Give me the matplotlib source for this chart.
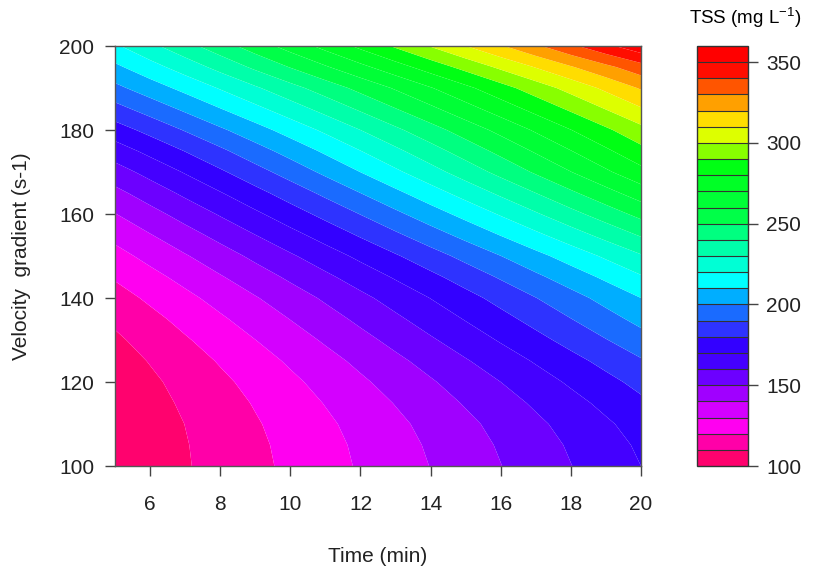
import numpy as np
import matplotlib
matplotlib.use("Agg")
import matplotlib.pyplot as plt

plt.rcParams['font.family'] = ['Liberation Sans', 'DejaVu Sans']
plt.rcParams['mathtext.fontset'] = 'custom'
plt.rcParams['mathtext.rm'] = 'Liberation Sans'
plt.rcParams['mathtext.it'] = 'Liberation Sans:italic'

# Time (min) columns and velocity gradient (s-1) rows
time_min = [5, 6, 7, 8, 9, 10, 11, 12, 13, 14, 15, 16, 17, 18, 19, 20]
velocity_gradient = [100, 105, 110, 115, 120, 125, 130, 135, 140, 145, 150,
                     155, 160, 165, 170, 175, 180, 185, 190, 195, 200]

# TSS (mg/L); one row per velocity gradient
tss_g100 = [101.0, 105.0, 109.2, 113.4, 117.6, 122.0, 126.4, 131.0, 135.6, 140.2, 145.0, 149.8, 154.8, 159.8, 164.8, 170.0]
tss_g105 = [101.1, 105.2, 109.5, 113.7, 118.1, 122.6, 127.1, 131.7, 136.4, 141.2, 146.0, 151.0, 156.0, 161.1, 166.3, 171.5]
tss_g110 = [101.5, 105.8, 110.1, 114.6, 119.1, 123.7, 128.3, 133.1, 137.9, 142.8, 147.8, 152.9, 158.1, 163.3, 168.6, 174.0]
tss_g115 = [102.3, 106.8, 111.4, 116.0, 120.7, 125.5, 130.4, 135.4, 140.4, 145.6, 150.8, 156.1, 161.4, 166.9, 172.4, 178.0]
tss_g120 = [103.5, 108.2, 113.1, 118.0, 122.9, 128.0, 133.1, 138.4, 143.7, 149.0, 154.5, 160.0, 165.7, 171.4, 177.1, 183.0]
tss_g125 = [105.5, 110.5, 115.6, 120.8, 126.0, 131.3, 136.7, 142.2, 147.8, 153.4, 159.2, 165.0, 170.9, 176.8, 182.9, 189.0]
tss_g130 = [108.3, 113.6, 119.0, 124.4, 129.9, 135.5, 141.2, 147.0, 152.8, 158.8, 164.8, 170.9, 177.0, 183.3, 189.6, 196.0]
tss_g135 = [111.8, 117.3, 122.9, 128.6, 134.4, 140.2, 146.1, 152.1, 158.2, 164.4, 170.6, 176.9, 183.3, 189.8, 196.4, 203.0]
tss_g140 = [116.0, 121.7, 127.5, 133.4, 139.3, 145.3, 151.4, 157.6, 163.9, 170.2, 176.7, 183.2, 189.8, 196.4, 203.2, 210.0]
tss_g145 = [121.0, 127.0, 133.0, 139.2, 145.4, 151.7, 158.0, 164.5, 171.0, 177.6, 184.3, 191.1, 198.0, 204.9, 211.9, 219.0]
tss_g150 = [126.6, 132.9, 139.2, 145.6, 152.2, 158.7, 165.4, 172.2, 179.0, 185.9, 192.9, 199.9, 207.1, 214.3, 221.6, 229.0]
tss_g155 = [132.8, 139.5, 146.2, 153.0, 159.9, 166.9, 173.9, 181.1, 188.3, 195.6, 202.9, 210.4, 217.9, 225.5, 233.2, 241.0]
tss_g160 = [139.7, 146.7, 153.8, 160.9, 168.2, 175.5, 182.9, 190.3, 197.9, 205.5, 213.2, 221.0, 228.9, 236.9, 244.9, 253.0]
tss_g165 = [147.3, 154.6, 162.0, 169.4, 176.9, 184.5, 192.2, 200.0, 207.8, 215.8, 223.8, 231.9, 240.0, 248.3, 256.6, 265.0]
tss_g170 = [155.7, 163.2, 170.8, 178.5, 186.3, 194.1, 202.1, 210.1, 218.2, 226.3, 234.6, 242.9, 251.3, 259.8, 268.4, 277.0]
tss_g175 = [165.1, 172.7, 180.3, 188.0, 195.9, 203.7, 211.7, 219.8, 227.9, 236.1, 244.4, 252.7, 261.2, 269.7, 278.3, 287.0]
tss_g180 = [175.5, 183.0, 190.7, 198.4, 206.1, 214.0, 221.9, 230.0, 238.1, 246.2, 254.5, 262.8, 271.3, 279.8, 288.3, 297.0]
tss_g185 = [186.5, 194.1, 201.8, 209.6, 217.4, 225.3, 233.3, 241.4, 249.6, 257.8, 266.2, 274.6, 283.1, 291.6, 300.3, 309.0]
tss_g190 = [197.5, 205.2, 212.9, 220.8, 228.7, 236.7, 244.7, 252.9, 261.1, 269.4, 277.8, 286.3, 294.9, 303.5, 312.2, 321.0]
tss_g195 = [208.0, 216.3, 224.6, 233.2, 242.0, 250.5, 259.0, 267.5, 276.0, 284.6, 293.2, 302.0, 310.6, 319.2, 327.6, 336.0]
tss_g200 = [218.5, 227.5, 236.5, 245.6, 254.8, 264.0, 273.1, 282.3, 291.4, 300.6, 309.9, 319.1, 328.4, 338.0, 347.6, 357.0]

levels = list(range(100, 361, 10))
level_colors = [
    '#FF026E', '#FF00A8', '#FF00F0', '#D400FF', '#A000FF', '#6C00FF',
    '#4400FF', '#3300FF', '#2E33FF', '#1A6BFF', '#00AEFF', '#00FFFF',
    '#00FFD5', '#00FFAA', '#00FF80', '#00FF48', '#00FF36', '#00FF26',
    '#00FF14', '#88FF00', '#DDFF00', '#FFDD00', '#FFA000', '#FF5500',
    '#FF0D00', '#FF0000',
]
x_ticks = [6, 8, 10, 12, 14, 16, 18, 20]
y_ticks = [100, 120, 140, 160, 180, 200]
cbar_ticks = [100, 150, 200, 250, 300, 350]

Z = np.array([tss_g100, tss_g105, tss_g110, tss_g115, tss_g120, tss_g125,
              tss_g130, tss_g135, tss_g140, tss_g145, tss_g150, tss_g155,
              tss_g160, tss_g165, tss_g170, tss_g175, tss_g180, tss_g185,
              tss_g190, tss_g195, tss_g200])
X, Y = np.meshgrid(time_min, velocity_gradient)

FS = 15
W, H = 813, 574
fig = plt.figure(figsize=(W / 100, H / 100), dpi=100)
ax = fig.add_axes([115 / W, 1 - 466 / H, (641 - 115) / W, (466 - 46) / H])
cax = fig.add_axes([697 / W, 1 - 466 / H, (748 - 697) / W, (466 - 46) / H])

cs = ax.contourf(X, Y, Z, levels=levels, colors=level_colors, antialiased=True)
ax.set_xlim(5, 20)
ax.set_ylim(100, 200)
ax.set_xticks(x_ticks)
ax.set_yticks(y_ticks)
ax.tick_params(axis='x', direction='out', length=7, width=1, colors='#444',
               labelcolor='#222', labelsize=FS, pad=14)
ax.tick_params(axis='y', direction='out', length=7, width=1, colors='#444',
               labelcolor='#222', labelsize=FS, pad=8)
for s in ax.spines.values():
    s.set_color('#555')
    s.set_linewidth(1)

cb = fig.colorbar(cs, cax=cax, drawedges=True, ticks=cbar_ticks)
cb.dividers.set_color('#333')
cb.dividers.set_linewidth(0.8)
cb.outline.set_edgecolor('#333')
cb.outline.set_linewidth(1)
cax.tick_params(axis='y', direction='out', length=7, width=1, colors='#444',
                labelcolor='#222', labelsize=FS, pad=6)

fig.text(378 / W, 1 - 557 / H, 'Time (min)', ha='center', va='center',
         fontsize=FS, color='#222')
fig.text(22 / W, 1 - 256 / H, 'Velocity  gradient (s-1)', ha='center',
         va='center', rotation=90, fontsize=FS, color='#222')
fig.text(745 / W, 1 - 18 / H, 'TSS (mg L$^{-1}$)', ha='center', va='center',
         fontsize=13.5, color='#000')

fig.savefig('out.png', dpi=100)
